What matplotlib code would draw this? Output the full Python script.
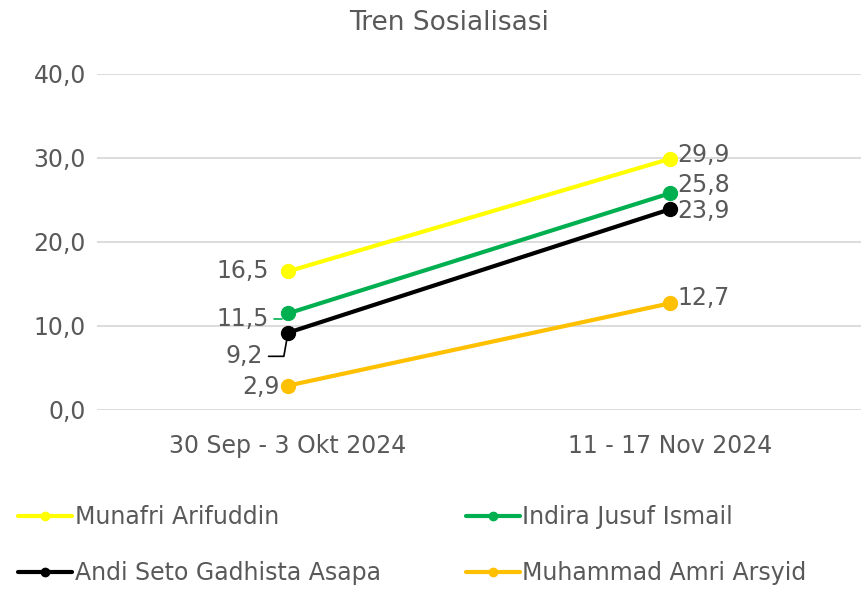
import matplotlib.pyplot as plt

plt.rcParams['font.family'] = ['DejaVu Sans']

periode = ['30 Sep - 3 Okt 2024', '11 - 17 Nov 2024']
kandidat = ['Munafri Arifuddin', 'Indira Jusuf Ismail',
            'Andi Seto Gadhista Asapa', 'Muhammad Amri Arsyid']
nilai_awal = [16.5, 11.5, 9.2, 2.9]
nilai_akhir = [29.9, 25.8, 23.9, 12.7]
warna = ['#FFFF00', '#00B050', '#000000', '#FFC000']

# label offsets (points) for the left / right data labels
off_kiri = [(-14, 0), (-14, -4), (-18, -17), (-6, -1)]
off_kanan = [(5, 3), (5, 6), (5, -1), (5, 4)]

teks = '#595959'
fs = 17

fig = plt.figure(figsize=(8.63, 5.89), dpi=100)
ax = fig.add_axes([97 / 863, 1 - 410 / 589, 764 / 863, 336 / 589])

x = [0, 1]
garis = []
for i in range(len(kandidat)):
    y = [nilai_awal[i], nilai_akhir[i]]
    g, = ax.plot(x, y, '-o', color=warna[i], lw=3, ms=10, label=kandidat[i],
                 solid_capstyle='round', zorder=3)
    garis.append(g)
    dx, dy = off_kiri[i]
    lab = f'{nilai_awal[i]:.1f}'.replace('.', ',')
    if i in (1, 2):
        ax.annotate(lab, (0, nilai_awal[i]), xytext=(dx, dy), textcoords='offset points',
                    ha='right', va='center', fontsize=fs, color=teks,
                    arrowprops=dict(arrowstyle='-', color='#000000' if i == 2 else warna[i],
                                    lw=1.2, shrinkA=2, shrinkB=6,
                                    connectionstyle='angle,angleA=0,angleB=80,rad=0'))
    else:
        ax.annotate(lab, (0, nilai_awal[i]), xytext=(dx, dy), textcoords='offset points',
                    ha='right', va='center', fontsize=fs, color=teks)
    dx, dy = off_kanan[i]
    lab = f'{nilai_akhir[i]:.1f}'.replace('.', ',')
    ax.annotate(lab, (1, nilai_akhir[i]), xytext=(dx, dy), textcoords='offset points',
                ha='left', va='center', fontsize=fs, color=teks)

ax.set_xlim(-0.5, 1.5)
ax.set_ylim(0, 40)
ax.set_yticks([0, 10, 20, 30, 40])
ax.set_yticklabels([f'{v:.1f}'.replace('.', ',') for v in [0, 10, 20, 30, 40]])
ax.set_xticks(x)
ax.set_xticklabels(periode)
ax.tick_params(length=0, labelsize=fs, labelcolor=teks, pad=17)
ax.tick_params(axis='y', pad=8)
ax.grid(axis='y', color='#d9d9d9', lw=1.3)
ax.set_axisbelow(True)
for s in ax.spines.values():
    s.set_visible(False)

fig.text(0.52, 1 - 23 / 589, 'Tren Sosialisasi', ha='center', va='center',
         fontsize=19, color=teks)

# legend is filled column-wise, so order it to read row by row
urut = [0, 2, 1, 3]
fig.legend([garis[k] for k in urut], [kandidat[k] for k in urut],
           loc='upper left', bbox_to_anchor=(18 / 863, 1 - 505 / 589), ncol=2,
           frameon=False, fontsize=fs, labelcolor=teks, handlelength=2.3,
           handletextpad=0.1, columnspacing=3.6, labelspacing=1.35, markerscale=0.6,
           borderaxespad=0, borderpad=0)

fig.savefig('out.png', dpi=100)
